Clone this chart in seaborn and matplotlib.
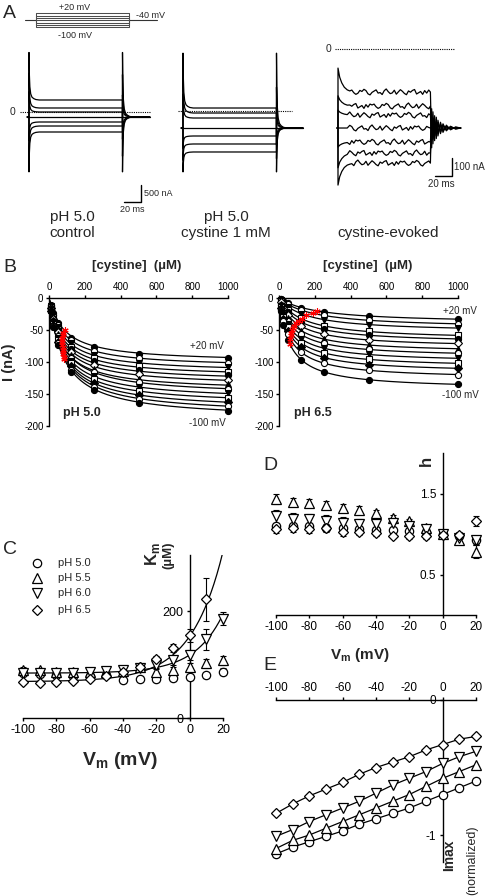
import matplotlib
matplotlib.use("Agg")
import matplotlib.pyplot as plt
import numpy as np
import pandas as pd
import seaborn as sns

W, H = 486, 896

# ---------------------------------------------------------------------------
# Data
# ---------------------------------------------------------------------------
# A: voltage protocol and recorded currents (nA); steps +20 ... -100 mV
STEP_MV = [20, 0, -20, -40, -60, -80, -100]
HOLD_MV = -40
PULSE_MS = 110

CTRL_NA = [353, 118, 0, -147, -294, -412, -588]
CTRL_HOLD_NA = -147
CTRL_ON_NA = [1750, 1150, 600, -147, -850, -1350, -1760]
CTRL_OFF_NA = [-1760, -1300, -800, -147, 500, 1100, 1750]

CYS_NA = [88, -59, -206, -500, -735, -970, -1205]
CYS_HOLD_NA = -500
CYS_ON_NA = [1700, 1100, 500, -500, -1100, -1450, -1790]
CYS_OFF_NA = [-1790, -1400, -1000, -500, 100, 700, 1700]

EVOKED_NA = [-239, -317, -367, -439, -517, -578, -634]
EVOKED_HOLD_NA = -439
EVOKED_ON_NA = [-106, -260, -340, -439, -545, -660, -756]

# capacitive transient shape (fraction of peak left after d ms)
DECAY_MS = [0, 0.4, 1.0, 2.0, 3.5, 5.5, 8.0, 12.0]
DECAY_FRAC = [1.0, 0.55, 0.28, 0.13, 0.06, 0.03, 0.01, 0.0]
EV_DECAY_MS = [0, 2, 4.5, 7.5, 11]
EV_DECAY_FRAC = [1.0, 0.62, 0.38, 0.2, 0.09]
TAIL_MS = [0, 1.5, 3, 5, 7, 9, 12, 15, 19, 24, 30, 36]
TAIL_FRAC = [1.0, -0.55, 0.45, -0.35, 0.3, -0.22, 0.16, -0.12, 0.08, -0.05, 0.03, 0.0]
NOISE_NA = [6, 11, -4, -13, -7, 9, 3, 15, 8, -10, -16, -2, 5, 12, -6, -3,
            -14, 7, 17, 2, -9, -5, 10, -12, 1, 13, 4, -8, -15, 6,
            -1, 9, 14, -11, -4, 3, -13, 8, -6, 11]

# B: [cystine] dose-response (nA), rows +20 ... -100 mV
CONC_UM = [10, 25, 50, 125, 250, 500, 1000]
VOLT_B = [20, 10, 0, -10, -20, -30, -40, -50, -60, -70, -80, -90, -100]
PH50_I = [
    [-11, -24, -39, -62, -77, -87, -94],
    [-12, -26, -42, -66, -83, -94, -101],
    [-13, -28, -45, -71, -89, -101, -108],
    [-14, -30, -48, -76, -94, -107, -115],
    [-15, -31, -50, -80, -99, -113, -121],
    [-15, -33, -53, -84, -105, -119, -128],
    [-16, -35, -56, -89, -111, -126, -135],
    [-17, -36, -59, -93, -116, -132, -142],
    [-18, -38, -62, -98, -122, -139, -149],
    [-19, -40, -65, -102, -127, -145, -156],
    [-20, -42, -68, -107, -133, -152, -163],
    [-20, -44, -70, -112, -139, -158, -169],
    [-21, -45, -73, -116, -144, -164, -176],
]
PH50_IMAX = [-101, -109, -117, -124, -131, -138, -146, -153, -161, -168, -176, -183, -190]
PH50_KM = [87, 80, 77, 74, 73, 73, 72, 80, 79, 78, 81, 83, 84]

PH65_I = [
    [-2, -4, -8, -15, -22, -28, -33],
    [-2, -6, -10, -19, -27, -35, -40],
    [-3, -8, -14, -25, -34, -42, -47],
    [-5, -11, -18, -32, -43, -52, -58],
    [-6, -13, -22, -38, -49, -58, -64],
    [-7, -16, -27, -44, -57, -66, -71],
    [-9, -20, -32, -51, -64, -74, -79],
    [-11, -23, -36, -57, -71, -80, -86],
    [-12, -26, -41, -64, -78, -88, -94],
    [-14, -29, -46, -71, -86, -96, -102],
    [-16, -33, -51, -77, -93, -104, -110],
    [-18, -36, -57, -85, -102, -113, -120],
    [-20, -42, -65, -97, -115, -128, -135],
]
PH65_IMAX = [-40, -48, -54, -66, -71, -78, -86, -93, -101, -109, -117, -127, -143]
PH65_KM = [210, 190, 150, 130, 110, 95, 85, 78, 72, 68, 65, 62, 60]

B_MARKERS = ["o", "o", "v", "s", "o", "D", "^", "o", "v", "s", "D", "o", "o"]
B_FACES = ["k", "w", "k", "w", "k", "w", "k", "w", "k", "w", "k", "w", "k"]

# C-E: voltage dependence, -100 ... +20 mV
VM = [-100, -90, -80, -70, -60, -50, -40, -30, -20, -10, 0, 10, 20]
PH_LABELS = ["pH 5.0", "pH 5.5", "pH 6.0", "pH 6.5"]
PH_MARKERS = ["o", "^", "v", "D"]
PH_MS = [6, 6.5, 6.5, 5.5]

KM_PH50 = [84, 83, 81, 78, 79, 80, 72, 73, 73, 74, 77, 80, 87]
KM_PH55 = [90, 89, 87, 87, 87, 86, 88, 95, 87, 90, 95, 102, 108]
KM_PH60 = [84, 85, 84, 84, 86, 88, 90, 94, 99, 108, 118, 147, 186]
KM_PH65 = [67, 66, 68, 70, 73, 79, 87, 96, 110, 131, 155, 222, np.nan]
KM_ERR_PH50 = [4, 4, 4, 4, 4, 4, 4, 4, 4, 4, 5, 5, 6]
KM_ERR_PH55 = [5, 5, 5, 5, 5, 5, 5, 5, 5, 6, 8, 8, 8]
KM_ERR_PH60 = [4, 4, 4, 4, 4, 5, 5, 5, 6, 8, 10, 20, 12]
KM_ERR_PH65 = [4, 4, 4, 4, 4, 4, 5, 5, 6, 7, 12, 40, 0]
# Km(V) = a + b * exp(V / s) fits for pH 6.0 and 6.5
KM_FIT_PH60 = (84, 34, 17)
KM_FIT_PH65 = (68, 85, 19)

H_PH50 = [1.10, 1.10, 1.10, 1.08, 1.08, 1.06, 1.05, 1.05, 1.04, 1.02, 1.00, 0.98, 0.92]
H_PH55 = [1.43, 1.40, 1.38, 1.36, 1.32, 1.30, 1.26, 1.20, 1.16, 1.08, 1.00, 0.92, 0.78]
H_PH60 = [1.22, 1.18, 1.18, 1.16, 1.14, 1.12, 1.12, 1.14, 1.10, 1.06, 1.00, 0.95, 0.92]
H_PH65 = [1.06, 1.07, 1.06, 1.07, 1.03, 1.03, 1.01, 0.98, 0.97, 0.97, 0.99, 0.99, 1.16]
H_ERR_PH50 = [0.03, 0.03, 0.03, 0.03, 0.03, 0.03, 0.03, 0.03, 0.03, 0.03, 0.03, 0.03, 0.04]
H_ERR_PH55 = [0.06, 0.05, 0.05, 0.05, 0.05, 0.04, 0.04, 0.04, 0.03, 0.03, 0.03, 0.04, 0.08]
H_ERR_PH60 = [0.08, 0.08, 0.07, 0.07, 0.07, 0.06, 0.05, 0.05, 0.04, 0.04, 0.03, 0.04, 0.06]
H_ERR_PH65 = [0.05, 0.05, 0.05, 0.05, 0.05, 0.04, 0.04, 0.03, 0.03, 0.03, 0.03, 0.03, 0.06]

IMAX_PH50 = [-1.14, -1.09, -1.05, -1.01, -0.97, -0.92, -0.88, -0.84, -0.80, -0.75, -0.70, -0.65, -0.60]
IMAX_PH55 = [-1.10, -1.04, -1.00, -0.95, -0.90, -0.85, -0.80, -0.75, -0.70, -0.64, -0.58, -0.53, -0.48]
IMAX_PH60 = [-1.01, -0.96, -0.90, -0.85, -0.80, -0.75, -0.69, -0.63, -0.58, -0.53, -0.47, -0.42, -0.38]
IMAX_PH65 = [-0.84, -0.77, -0.71, -0.66, -0.61, -0.55, -0.50, -0.46, -0.42, -0.37, -0.33, -0.29, -0.27]

# ---------------------------------------------------------------------------
# Style
# ---------------------------------------------------------------------------
sns.set_style("ticks")
plt.rcParams["font.family"] = ["Liberation Sans", "DejaVu Sans"]
plt.rcParams["mathtext.fontset"] = "custom"
plt.rcParams["mathtext.rm"] = "Liberation Sans"
plt.rcParams["mathtext.bf"] = "Liberation Sans:bold"
plt.rcParams["axes.unicode_minus"] = False
plt.rcParams["axes.linewidth"] = 1.0
plt.rcParams["xtick.major.width"] = 1.0
plt.rcParams["ytick.major.width"] = 1.0
plt.rcParams["xtick.major.size"] = 2.5
plt.rcParams["ytick.major.size"] = 2.5
plt.rcParams["xtick.color"] = "k"
plt.rcParams["ytick.color"] = "k"
plt.rcParams["axes.edgecolor"] = "k"

fig = plt.figure(figsize=(W / 100, H / 100), dpi=100)


def px_axes(x0, y0, x1, y1):
    return fig.add_axes([x0 / W, 1 - y1 / H, (x1 - x0) / W, (y1 - y0) / H])


def ftext(x, y, s, **kw):
    kw.setdefault("ha", "center")
    kw.setdefault("va", "center")
    fig.text(x / W, 1 - y / H, s, **kw)


def trace_axes(box, t0_px, px_ms, zero_py, px_unit):
    x0, y0, x1, y1 = box
    ax = px_axes(*box)
    ax.set_axis_off()
    ax.set_xlim((x0 - t0_px) / px_ms, (x1 - t0_px) / px_ms)
    ax.set_ylim((zero_py - y1) / px_unit, (zero_py - y0) / px_unit)
    return ax


def step_trace(steady, hold, peak_on, peak_off, t_end):
    t, y = [-2.0, -0.01], [hold, hold]
    for d, f in zip(DECAY_MS, DECAY_FRAC):
        t.append(d)
        y.append(steady + f * (peak_on - steady))
    t.append(PULSE_MS - 0.01)
    y.append(steady)
    for d, f in zip(DECAY_MS, DECAY_FRAC):
        t.append(PULSE_MS + d)
        y.append(hold + f * (peak_off - hold))
    t.append(t_end)
    y.append(hold)
    return t, y


# ---------------------------------------------------------------------------
# Panel A
# ---------------------------------------------------------------------------
ftext(3, 14, "A", fontsize=14, ha="left")

# voltage protocol
ax_p = trace_axes((20, 0, 170, 40), 36, 0.848, 15.63, 0.1167)
ax_p.plot([-13, 0], [HOLD_MV, HOLD_MV], color="0.2", lw=0.8)
ax_p.plot([PULSE_MS, 142.7], [HOLD_MV, HOLD_MV], color="0.2", lw=0.8)
for v in STEP_MV:
    ax_p.plot([0, 0, PULSE_MS, PULSE_MS], [HOLD_MV, v, v, HOLD_MV], color="0.3", lw=0.75)
ftext(75, 7, "+20 mV", fontsize=6.5)
ftext(136, 15, "-40 mV", fontsize=6.5, ha="left")
ftext(75, 35, "-100 mV", fontsize=6.5)

# control
ax1 = trace_axes((0, 40, 158, 210), 29, 0.85, 112, 1 / 29.4)
for s, on, off in zip(CTRL_NA, CTRL_ON_NA, CTRL_OFF_NA):
    t, y = step_trace(s, CTRL_HOLD_NA, on, off, 142)
    ax1.plot(t, y, color="k", lw=0.9)
ax1.plot([-10.6, 142], [0, 0], color="k", lw=0.8, ls=(0, (1, 1)))
ftext(12, 112, "0", fontsize=7.5)
# scale bar 500 nA / 20 ms
ax1.plot([111.8, 131.8, 131.8], [-2646, -2646, -2146], color="k", lw=1.0)
ftext(144, 193, "500 nA", fontsize=6.5, ha="left")
ftext(132, 210, "20 ms", fontsize=6.5)

# cystine 1 mM
ax2 = trace_axes((160, 40, 318, 210), 183, 0.85, 111, 1 / 29.4)
for s, on, off in zip(CYS_NA, CYS_ON_NA, CYS_OFF_NA):
    t, y = step_trace(s, CYS_HOLD_NA, on, off, 141)
    ax2.plot(t, y, color="k", lw=0.9)
ax2.plot([-5.9, 128], [0, 0], color="k", lw=0.8, ls=(0, (1, 1)))

# cystine-evoked
ax3 = trace_axes((318, 40, 486, 210), 338, 0.84, 49, 0.18)
noise_t = np.linspace(14, 108, len(NOISE_NA))
for i, (s, on) in enumerate(zip(EVOKED_NA, EVOKED_ON_NA)):
    noise = np.roll(NOISE_NA, 11 * i)
    t = [-1.0, -0.01] + list(EV_DECAY_MS) + list(noise_t) + [PULSE_MS]
    y = ([EVOKED_HOLD_NA, EVOKED_HOLD_NA]
         + [s + f * (on - s) for f in EV_DECAY_FRAC]
         + list(s + noise) + [s])
    t += [PULSE_MS + d for d in TAIL_MS] + [145]
    y += [EVOKED_HOLD_NA + f * (s - EVOKED_HOLD_NA) for f in TAIL_FRAC] + [EVOKED_HOLD_NA]
    ax3.plot(t, y, color="k", lw=0.9)
ax3.plot([-3.6, 139.3], [0, 0], color="k", lw=0.8, ls=(0, (1, 1)))
ftext(328, 49, "0", fontsize=7.5)
ax3.plot([115.4, 135.4, 135.4], [-706, -706, -606], color="k", lw=1.0)
ftext(454, 167, "100 nA", fontsize=7, ha="left")
ftext(441, 184, "20 ms", fontsize=7)

ftext(72, 217, "pH 5.0", fontsize=11)
ftext(72, 233, "control", fontsize=11)
ftext(226, 217, "pH 5.0", fontsize=11)
ftext(226, 233, "cystine 1 mM", fontsize=11)
ftext(388, 233, "cystine-evoked", fontsize=11)

# ---------------------------------------------------------------------------
# Panel B
# ---------------------------------------------------------------------------
ftext(3, 268, "B", fontsize=14, ha="left")
c_fit = np.linspace(0, 1000, 300)


def dose_panel(box, table, imax, km, ph_text, ph_xy, top_xy, bot_xy):
    ax = px_axes(*box)
    fit = pd.DataFrame(
        [(v, c, im * c / (k + c)) for v, im, k in zip(VOLT_B, imax, km) for c in c_fit],
        columns=["V", "c", "I"],
    )
    sns.lineplot(data=fit, x="c", y="I", units="V", estimator=None, color="k",
                 lw=0.9, ax=ax, legend=False)
    for row, mk, fc in zip(table, B_MARKERS, B_FACES):
        ax.plot(CONC_UM, row, ls="none", marker=mk, ms=4.4, mfc=fc, mec="k",
                mew=0.8, clip_on=False, zorder=3)
    ax.plot(km, np.array(imax) / 2, color="red", lw=0.8, marker=(6, 2, 0), ms=4.5,
            mew=0.8, zorder=4)
    ax.set_xlim(0, 1000)
    ax.set_ylim(-200, 0)
    ax.xaxis.tick_top()
    ax.spines["right"].set_visible(False)
    ax.spines["bottom"].set_visible(False)
    ax.set_xticks(range(0, 1001, 200))
    ax.set_yticks(range(-200, 1, 50))
    ax.tick_params(labelsize=7, pad=1.5)
    ax.set_xlabel("")
    ax.set_ylabel("")
    ftext(*ph_xy, ph_text, fontsize=9, fontweight="bold")
    ftext(*top_xy, "+20 mV", fontsize=7)
    ftext(*bot_xy, "-100 mV", fontsize=7)
    return ax


dose_panel((49, 298, 228, 426), PH50_I, PH50_IMAX, PH50_KM, "pH 5.0", (82, 413),
           (207, 346), (207, 423))
dose_panel((279, 298, 458, 426), PH65_I, PH65_IMAX, PH65_KM, "pH 6.5", (313, 413),
           (460, 311), (460, 395))
ftext(137, 266, "[cystine]  (µM)", fontsize=9.5, fontweight="bold")
ftext(368, 266, "[cystine]  (µM)", fontsize=9.5, fontweight="bold")
ftext(9, 362, "I (nA)", fontsize=10.5, fontweight="bold", rotation=90)


def mid_spine_axes(ax):
    ax.spines["right"].set_visible(False)
    ax.spines["left"].set_position(("data", 0))
    ax.set_xlabel("")
    ax.set_ylabel("")


def draw_markers(ax, ys, errs=None):
    for y, e, mk, ms in zip(ys, errs or [None] * 4, PH_MARKERS, PH_MS):
        if e is not None:
            ax.errorbar(VM, y, yerr=e, fmt="none", ecolor="k", elinewidth=0.8,
                        capsize=2.2, capthick=0.8, clip_on=False, zorder=2)
        ax.plot(VM, y, ls="none", marker=mk, ms=ms, mfc="white", mec="k", mew=0.9,
                clip_on=False, zorder=3)


# ---------------------------------------------------------------------------
# Panel C
# ---------------------------------------------------------------------------
ftext(3, 549, "C", fontsize=14, ha="left")
axC = px_axes(23, 555, 223, 718)
v_fit = np.linspace(-100, 20, 200)
for a, b, s in (KM_FIT_PH60, KM_FIT_PH65):
    sns.lineplot(x=v_fit, y=a + b * np.exp(v_fit / s), color="k", lw=0.9, ax=axC)
draw_markers(axC, [KM_PH50, KM_PH55, KM_PH60, KM_PH65],
             [KM_ERR_PH50, KM_ERR_PH55, KM_ERR_PH60, KM_ERR_PH65])
axC.set_xlim(-100, 20)
axC.set_ylim(0, 305)
mid_spine_axes(axC)
axC.spines["top"].set_visible(False)
axC.set_xticks(range(-100, 21, 20))
axC.set_yticks([0, 200])
axC.tick_params(labelsize=9, pad=2)
ftext(120, 760, r"V$_\mathbf{m}$ (mV)", fontsize=14, fontweight="bold")
ftext(152, 554, r"K$_\mathbf{m}$", fontsize=12, fontweight="bold", rotation=90)
ftext(168, 555, "(µM)", fontsize=9.5, fontweight="bold", rotation=90)
for yy, lab, mk, ms in zip([563, 578, 593, 610], PH_LABELS, PH_MARKERS, PH_MS):
    axC.plot([(37 - 23) / 200], [1 - (yy - 555) / 163], ls="none", marker=mk, ms=ms,
             mfc="white", mec="k", mew=0.9, transform=axC.transAxes, clip_on=False)
    ftext(58, yy, lab, fontsize=8, ha="left")

# ---------------------------------------------------------------------------
# Panel D
# ---------------------------------------------------------------------------
ftext(263, 465, "D", fontsize=14, ha="left")
axD = px_axes(276, 453, 476, 615)
draw_markers(axD, [H_PH50, H_PH55, H_PH60, H_PH65],
             [H_ERR_PH50, H_ERR_PH55, H_ERR_PH60, H_ERR_PH65])
axD.set_xlim(-100, 20)
axD.set_ylim(0, 2.0)
mid_spine_axes(axD)
axD.spines["top"].set_visible(False)
axD.set_xticks(range(-100, 21, 20))
axD.set_yticks([0.5, 1.5])
axD.tick_params(labelsize=8.5, pad=2)
ftext(426, 461, "h", fontsize=12, fontweight="bold", rotation=90)
ftext(360, 655, r"V$_\mathbf{m}$ (mV)", fontsize=11, fontweight="bold")

# ---------------------------------------------------------------------------
# Panel E
# ---------------------------------------------------------------------------
ftext(263, 666, "E", fontsize=14, ha="left")
axE = px_axes(276, 700, 476, 862)
for y in (IMAX_PH50, IMAX_PH55, IMAX_PH60, IMAX_PH65):
    sns.lineplot(x=VM, y=y, color="k", lw=0.9, ax=axE)
draw_markers(axE, [IMAX_PH50, IMAX_PH55, IMAX_PH60, IMAX_PH65])
axE.set_xlim(-100, 20)
axE.set_ylim(-1.2, 0)
mid_spine_axes(axE)
axE.spines["bottom"].set_visible(False)
axE.xaxis.tick_top()
axE.set_xticks(range(-100, 21, 20))
axE.set_yticks([-1, 0])
axE.set_yticklabels(["-1", "0"])
axE.tick_params(labelsize=8.5, pad=2)
ftext(449, 855, "Imax", fontsize=10, fontweight="bold", rotation=90)
ftext(472, 860, "(normalized)", fontsize=9, rotation=90)

fig.savefig("out.png", dpi=100)
